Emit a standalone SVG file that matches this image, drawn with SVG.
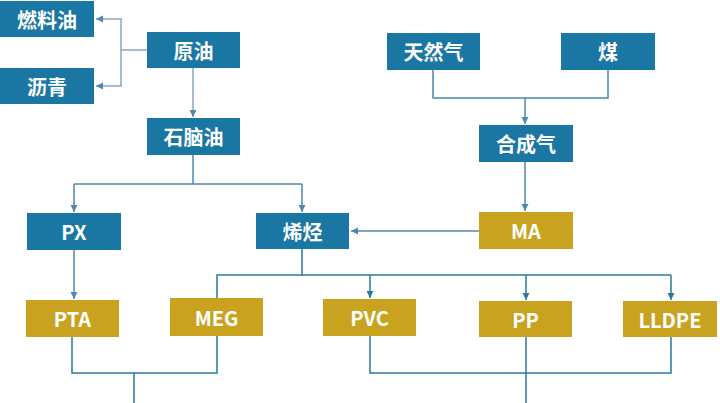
<svg xmlns="http://www.w3.org/2000/svg" width="720" height="403" viewBox="0 0 720 403">
<defs>
<marker id="ah" markerWidth="8" markerHeight="8" refX="7" refY="4" orient="auto" markerUnits="userSpaceOnUse">
<path d="M0,0.5 L7,4 L0,7.5 Z" fill="#4E88AE"/>
</marker>
<marker id="ah2" markerWidth="8" markerHeight="8" refX="7" refY="4" orient="auto" markerUnits="userSpaceOnUse">
<path d="M0,0.5 L7,4 L0,7.5 Z" fill="#2A7A9C"/>
</marker>
</defs>
<style>
.b{fill:#1A76A2}
.g{fill:#C9A31F}
.t{fill:#fff;font-family:"Noto Sans CJK SC","Noto Sans",sans-serif;font-weight:bold;font-size:20px;text-anchor:middle;dominant-baseline:central}
.c1{fill:none;stroke:#8AA6C6;stroke-width:1.5}
.c2{fill:none;stroke:#4E88AE;stroke-width:1.5}
.c3{fill:none;stroke:#2A7A9C;stroke-width:1.5}
</style>
<rect width="720" height="403" fill="#fff"/>
<g id="connectors">
<path class="c1" d="M147,50 H121 V19 H96" marker-end="url(#ah)"/>
<path class="c1" d="M121,50 V86 H96" marker-end="url(#ah)"/>
<path class="c1" d="M193,68 V117" marker-end="url(#ah)"/>
<path class="c2" d="M193,155 V184"/>
<path class="c2" d="M74,184 H302"/>
<path class="c2" d="M74,184 V212" marker-end="url(#ah)"/>
<path class="c2" d="M302,184 V212" marker-end="url(#ah)"/>
<path class="c2" d="M74,250 V299" marker-end="url(#ah)"/>
<path class="c2" d="M433,70 V98 H608 V70"/>
<path class="c2" d="M525,98 V124" marker-end="url(#ah)"/>
<path class="c2" d="M525,162 V211" marker-end="url(#ah)"/>
<path class="c2" d="M479,231 H351" marker-end="url(#ah)"/>
<path class="c3" d="M302,249 V275 H671"/>
<path class="c3" d="M217,298 V275 H302"/>
<path class="c3" d="M370,275 V298" marker-end="url(#ah2)"/>
<path class="c3" d="M526,275 V300" marker-end="url(#ah2)"/>
<path class="c3" d="M671,275 V300" marker-end="url(#ah2)"/>
<path class="c3" d="M72,337 V373 H217 V336"/>
<path class="c3" d="M134,373 V403"/>
<path class="c3" d="M370,336 V373 H671 V337"/>
<path class="c3" d="M526,337 V403"/>
</g>
<g id="n_fuel"><rect class="b" x="0" y="1" width="94" height="36"/><text class="t" x="47" y="19">燃料油</text></g>
<g id="n_asphalt"><rect class="b" x="0" y="68" width="94" height="36"/><text class="t" x="47" y="86">沥青</text></g>
<g id="n_crude"><rect class="b" x="147" y="32" width="93" height="36"/><text class="t" x="193.5" y="50">原油</text></g>
<g id="n_naphtha"><rect class="b" x="147" y="118" width="93" height="37"/><text class="t" x="193.5" y="136.5">石脑油</text></g>
<g id="n_px"><rect class="b" x="27" y="213" width="94" height="37"/><text class="t" x="74" y="231.5">PX</text></g>
<g id="n_olefin"><rect class="b" x="256" y="213" width="93" height="36"/><text class="t" x="302.5" y="231">烯烃</text></g>
<g id="n_gas"><rect class="b" x="387" y="33" width="93" height="37"/><text class="t" x="433.5" y="51.5">天然气</text></g>
<g id="n_coal"><rect class="b" x="561" y="33" width="94" height="37"/><text class="t" x="608" y="51.5">煤</text></g>
<g id="n_syngas"><rect class="b" x="479" y="125" width="94" height="37"/><text class="t" x="526" y="143.5">合成气</text></g>
<g id="n_ma"><rect class="g" x="479" y="212" width="94" height="37"/><text class="t" x="526" y="230.5">MA</text></g>
<g id="n_pta"><rect class="g" x="26" y="300" width="93" height="37"/><text class="t" x="72.5" y="318.5">PTA</text></g>
<g id="n_meg"><rect class="g" x="170" y="298" width="93" height="38"/><text class="t" x="216.5" y="317">MEG</text></g>
<g id="n_pvc"><rect class="g" x="323" y="299" width="93" height="37"/><text class="t" x="369.5" y="317.5">PVC</text></g>
<g id="n_pp"><rect class="g" x="479" y="301" width="93" height="36"/><text class="t" x="525.5" y="319">PP</text></g>
<g id="n_lldpe"><rect class="g" x="623" y="301" width="94" height="36"/><text class="t" x="670" y="319">LLDPE</text></g>
</svg>
